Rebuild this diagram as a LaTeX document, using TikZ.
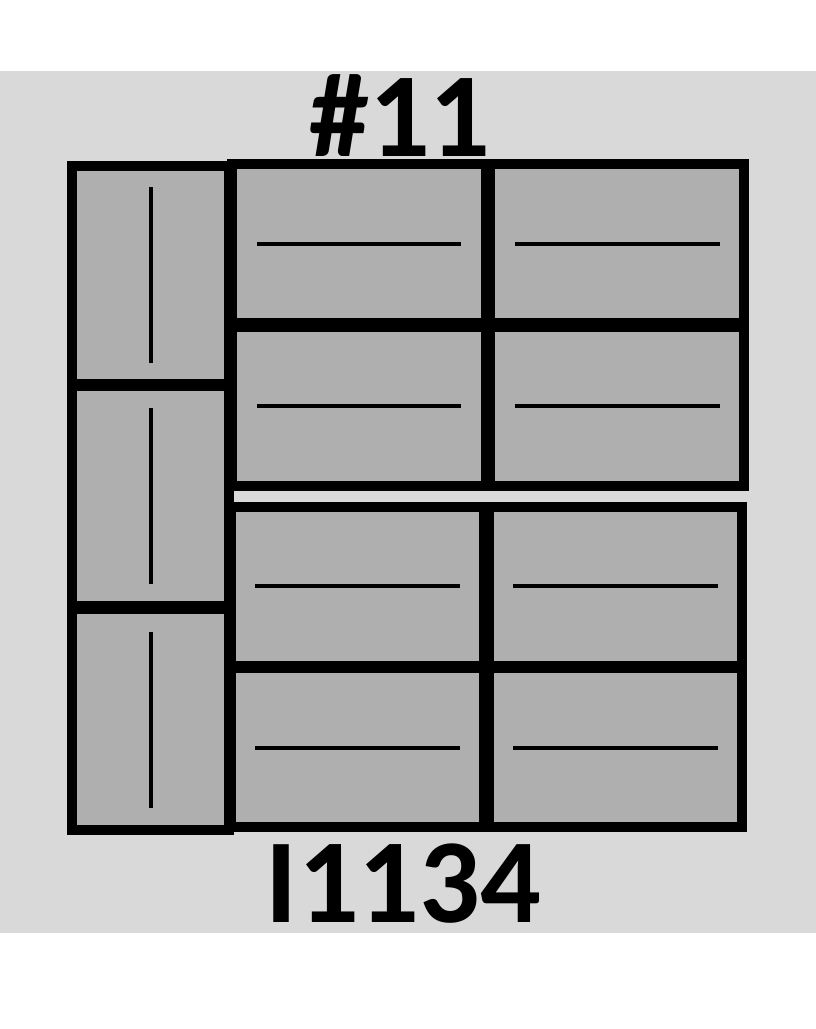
\documentclass[tikz,border=0pt]{standalone}
\usepackage{fontspec}
\setmainfont{Carlito}
\definecolor{bggray}{RGB}{217,217,217}
\definecolor{cellgray}{RGB}{175,175,175}

\begin{document}
\begin{tikzpicture}[x=1pt,y=-1pt]
\tikzstyle{every node}+=[inner sep=0pt]
\tikzstyle{cell}=[rectangle, draw=black, fill=cellgray, line width=10pt]
\tikzstyle{stripe}=[black, line width=4pt]
\tikzstyle{tag}=[anchor=base, font=\fontsize{120}{120}\selectfont\bfseries]
\useasboundingbox (0,0) rectangle (816,1029);
\fill [white] (0,0) rectangle (816,1029);
\fill [bggray] (0,70.7) rectangle (816,932.7);
\node [cell, minimum width=156.2pt, minimum height=218.1pt] (l1) at (150.5,275.3) {};
\node [cell, minimum width=156.2pt, minimum height=220.6pt] (l2) at (150.5,496) {};
\node [cell, minimum width=156.2pt, minimum height=221pt] (l3) at (150.5,719.5) {};
\node [cell, minimum width=253.4pt, minimum height=159pt] (t11) at (359,243.8) {};
\node [cell, minimum width=254.3pt, minimum height=159pt] (t12) at (617.2,243.8) {};
\node [cell, minimum width=253.4pt, minimum height=158.9pt] (t21) at (359,406.2) {};
\node [cell, minimum width=254.3pt, minimum height=158.9pt] (t22) at (617.2,406.2) {};
\node [cell, minimum width=253.4pt, minimum height=158.7pt] (b11) at (357.3,586.4) {};
\node [cell, minimum width=253pt, minimum height=158.7pt] (b12) at (615.5,586.4) {};
\node [cell, minimum width=253.4pt, minimum height=159pt] (b21) at (357.3,747.8) {};
\node [cell, minimum width=253pt, minimum height=159pt] (b22) at (615.5,747.8) {};
\foreach \n in {l1,l2,l3}
  \draw [stripe] (\n.center) ++(0,-88) -- ++(0,176);
\foreach \n in {t11,t12,t21,t22,b11,b12,b21,b22}
  \draw [stripe] (\n.center) ++(-102.4,0) -- ++(204.8,0);
\node [tag] (title) at (400,156) {\#11};
\node [tag] (code) at (403.6,922) {I1134};
\end{tikzpicture}
\end{document}
